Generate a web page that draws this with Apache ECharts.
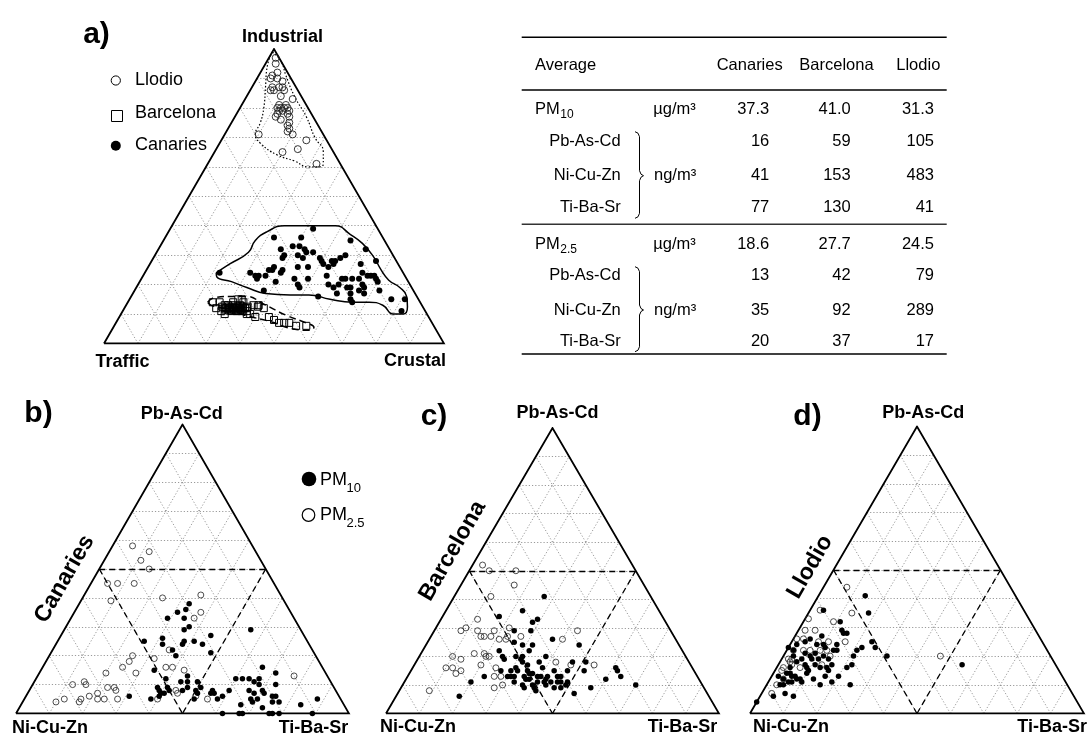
<!DOCTYPE html>
<html><head><meta charset="utf-8">
<script src="https://cdn.jsdelivr.net/npm/echarts@6/dist/echarts.min.js"></script>
<style>html,body{margin:0;padding:0;background:#fff}#c{width:1088px;height:740px}</style>
</head><body><div id="c"></div>
<script>
// ---------- Panel a: [Industrial %, Crustal %]  (Traffic = 100 - both) ----------
const llodioA = [[97,2],[95,3],[91,4],[92,5],[90,4],[90,6],[89,8],[87,6],[87,8],[86,7],[87,9],[86,10],[86,6],[84,10],[83,14],[81,11],[80,12],[80,13],[79,13],[80,14],[79,12],[78,15],[77,12],[77,16],[78,12],[76,14],[75,17],[74,17],[73,18],[72,18],[71,10],[71,20],[69,25],[66,24],[65,20],[61,32],[80,11],[81,13],[79,15]];
const barcelonaA = [[14,25],[14,27],[13,29],[12.5,30.5],[14,31],[15,32],[15,33],[14,34],[12.5,36],[13,37.5],[12.5,39],[13,39],[12,41],[9,44],[8,46],[7,48],[7,49.5],[7,51],[6,53.5],[6,56.5],[10,37],[10,38],[9,40],[11,29],[10,30.5],[12,27],[12.5,28.5],[12,30],[11.5,31.5],[12,32],[12,33],[12,34],[11.5,35],[13,30],[11,32],[11.5,33],[12.5,33],[11,35],[12,35.5],[11.5,30],[11,36.5],[11,33.5],[12.5,31.5],[13,33.5],[12,31],[11.5,32.5],[12.5,34.5],[11,34],[12,29.5],[13,31.5],[12,36],[11.5,34.5],[11.8,31],[12.2,32.5],[11.8,33.8],[12.2,34.8],[11.2,31.2]];
const canariesA = [[39,42],[36,32],[36,40],[35,55],[32,61],[32,36],[33,39],[33,41],[32,43],[31,44],[30,42],[29,44],[30,38],[29,38],[31,46],[30,56],[29,55],[28,54],[28,53],[29,49],[28,50],[27,51],[27,54],[26,53],[26,47],[26,44],[25,40],[24,40],[26,37],[25,37],[25,36],[23,36],[23,34],[22,34],[23,33],[24,31],[24,22],[21,40],[22,45],[20,47],[19,48],[22,49],[23,54],[20,56],[19,58],[20,59],[22,59],[22,60],[19,62],[17,64],[19,63],[24,64],[22,64],[20,66],[19,67],[23,66],[23,67],[23,68],[22,69],[21,70],[28,66],[27,62],[22,62],[18,66],[17,68],[15,65],[14,66],[17,60],[16,55],[15,77],[15,81],[11,82],[18,38],[18,72]];
const envLlodioA = [[99,0],[94,1],[87,4],[80,7],[75,8.5],[71,9],[68,12],[64,19],[62,25],[60,30],[60,33.5],[61,34],[65,32],[70,27],[77,21],[84,14],[91,8],[96,4]];
const envCanariesA = [[24,21],[27,23.5],[31,27],[35,27],[38,29],[40,33],[40,40],[40,48],[37,54],[34,59],[29.5,64.5],[25,69],[21.5,73],[19,77.5],[16,81],[12.5,83],[10,83],[10,80],[13,75.5],[14,71],[14,66],[15,59],[16.5,52],[16.5,46.5],[17,39],[19,32.5],[21,27],[22.5,22]];
const envBarcelonaA = [[14,23.5],[15.5,24.5],[16,29],[16,34],[13.5,40],[9.5,49],[7,56],[5.5,59],[4.5,58],[5,53],[7.5,45],[9.5,37],[11.5,30.5],[13,25]];

// ---------- Panels b-d: [Pb-As-Cd %, Ti-Ba-Sr %]  (Ni-Cu-Zn = rest) ----------
const canPM25 = [[58,6],[56,12],[53,11],[50,15],[45,5],[45,8],[45,13],[40,24],[41,35],[39,9],[35,38],[33,37],[22,35],[20,25],[18,25],[16,24],[14,29],[14,20],[16,37],[16,39],[15,43],[19,32],[10,12],[11,15],[10,16],[9,25],[8,26],[9,23],[7,21],[5,22],[5,24],[6,19],[5,17],[4,17],[5,12],[4,10],[5,28],[5,40],[8,44],[7,45],[6,51],[5,55],[13,77]];
const canPM10 = [[38,33],[36,33],[35,31],[33,29],[33,34],[30,37],[29,36],[27,45],[25,41],[25,38],[24,38],[24,44],[26,31],[25,26],[24,32],[22,36],[20,38],[21,48],[29,56],[15,34],[12,39],[13,45],[11,46],[11,44],[11,49],[9,41],[9,38],[8,39],[8,42],[7,41],[7,40],[6,40],[8,46],[9,47],[8,50],[7,51],[5,51],[9,51],[8,55],[7,56],[7,55],[6,59],[5,58],[8,60],[12,60],[12,62],[12,64],[11,66],[12,67],[10,68],[16,66],[14,71],[10,73],[8,70],[7,71],[7,68],[8,66],[5,68],[4,69],[5,70],[6,74],[6,75],[4,75],[4,77],[3,66],[2,73],[3,84],[5,88],[6,31],[5,38],[0,62],[0,67],[0,68],[0,76],[0,77],[0,79],[0,89]];
const barPM25 = [[52,3],[50,6],[50,14],[45,16],[41,11],[33,11],[29,8],[30,9],[29,13],[27,15],[27,16],[27,18],[29,18],[26,21],[26,23],[30,22],[27,27],[26,40],[29,43],[21,19],[21,16],[20,20],[20,21],[20,10],[19,13],[16,10],[16,12],[14,14],[15,15],[17,20],[16,25],[13,28],[13,26],[9,28],[10,30],[8,9],[17,54],[17,47],[18,42],[27,23]];
const barPM10 = [[41,27],[36,23],[33,29],[32,28],[34,17],[29,24],[29,29],[26,37],[24,32],[22,32],[24,29],[25,26],[24,46],[22,23],[20,25],[19,26],[20,38],[20,29],[19,31],[20,31],[18,32],[16,31],[15,32],[17,34],[18,37],[16,39],[13,40],[13,42],[15,43],[13,45],[13,46],[15,47],[18,47],[15,52],[18,51],[15,35],[14,36],[14,37],[13,39],[12,37],[12,36],[13,35],[13,32],[13,31],[11,33],[10,36],[10,39],[9,40],[11,40],[11,42],[12,42],[11,44],[11,46],[11,47],[9,48],[11,49],[10,49],[10,43],[8,41],[9,37],[11,20],[6,19],[13,23],[15,27],[7,53],[9,57],[12,60],[16,61],[15,62],[13,64],[10,70],[13,30],[15,30],[9,46]];
const llPM25 = [[44,7],[35,13],[33,1],[32,9],[29,5],[29,2],[26,1],[26,3],[25,8],[25,11],[25,16],[22,2],[22,5],[22,7],[22,10],[22,12],[20,14],[19,2],[19,3],[18,3],[16,2],[17,4],[15,2],[12,4],[16,7],[17,13],[10,3],[7,3],[20,47],[36,3]];
const llPM10 = [[41,14],[35,18],[36,4],[32,11],[29,13],[28,14],[28,15],[27,8],[25,4],[26,5],[24,8],[24,14],[25,24],[23,26],[23,22],[22,21],[20,31],[24,2],[21,6],[23,0],[24,10],[23,11],[22,14],[22,15],[22,2],[20,3],[19,6],[20,8],[21,9],[20,12],[19,14],[19,9],[17,11],[19,11],[17,16],[16,13],[16,15],[15,16],[13,20],[16,21],[20,21],[17,22],[18,5],[17,8],[16,9],[15,10],[16,4],[14,4],[14,5],[13,6],[13,7],[12,9],[12,8],[11,7],[11,6],[10,5],[10,4],[11,10],[10,16],[11,19],[10,25],[6,4],[7,7],[6,10],[4,0],[17,55],[12,13],[13,16],[12,4],[14,10],[13,2]];

// ---------- Table ----------
const tableCols = ['Canaries', 'Barcelona', 'Llodio'];
const rowNames = ['PM', 'Pb-As-Cd', 'Ni-Cu-Zn', 'Ti-Ba-Sr', 'PM', 'Pb-As-Cd', 'Ni-Cu-Zn', 'Ti-Ba-Sr'];
const rowSubs = ['10', '', '', '', '2.5', '', '', ''];
const valCanaries = ['37.3', '16', '41', '77', '18.6', '13', '35', '20'];
const valBarcelona = ['41.0', '59', '153', '130', '27.7', '42', '92', '37'];
const valLlodio = ['31.3', '105', '483', '41', '24.5', '79', '289', '17'];

// ---------- fonts ----------
const FF = "'Liberation Sans', Arial, Helvetica, sans-serif";
const mctx = document.createElement('canvas').getContext('2d');

// ---------- layout ----------
const grids = [
  {left: 104, top: 49, width: 340, height: 294.5},
  {left: 16, top: 424.5, width: 333, height: 289},
  {left: 386, top: 428, width: 333, height: 285.5},
  {left: 750, top: 426.5, width: 334, height: 287}
];
const T = (top, right) => [right / 100 + top / 200, top / 100];

function gridLines() {
  const out = [];
  for (let k = 10; k < 100; k += 10) {
    out.push({coords: [T(k, 0), T(k, 100 - k)]});
    out.push({coords: [T(0, k), T(100 - k, k)]});
    out.push({coords: [T(0, 100 - k), T(100 - k, 0)]});
  }
  return out;
}
const edges = [{coords: [T(0, 0), T(0, 100), T(100, 0), T(0, 0)]}];
const medial = [{coords: [T(50, 0), T(50, 50)]}, {coords: [T(50, 0), T(0, 50)]}, {coords: [T(50, 50), T(0, 50)]}];

function frame(i, dashed) {
  const s = [
    {type: 'lines', coordinateSystem: 'cartesian2d', xAxisIndex: i, yAxisIndex: i, silent: true, z: 1,
      lineStyle: {color: '#808080', width: 0.8, type: [1.2, 2], opacity: 1}, data: gridLines()},
    {type: 'lines', coordinateSystem: 'cartesian2d', xAxisIndex: i, yAxisIndex: i, silent: true, z: 3, polyline: true,
      lineStyle: {color: '#000', width: 1.8, type: 'solid', opacity: 1, join: 'miter'}, data: edges}
  ];
  if (dashed) s.push({type: 'lines', coordinateSystem: 'cartesian2d', xAxisIndex: i, yAxisIndex: i, silent: true, z: 3,
    lineStyle: {color: '#000', width: 1.3, type: [6, 4], opacity: 1}, data: medial});
  return s;
}
function sc(i, data, size, style, symbol) {
  return {type: 'scatter', xAxisIndex: i, yAxisIndex: i, silent: true, clip: false, z: 5, symbol: symbol || 'circle',
    symbolSize: size, itemStyle: Object.assign({opacity: 1}, style), data: data.map(d => T(d[0], d[1]))};
}
function env(data, width, type) {
  return {type: 'line', xAxisIndex: 0, yAxisIndex: 0, silent: true, clip: false, z: 4, smooth: 0.5, showSymbol: false, symbol: 'none',
    lineStyle: {color: '#000', width: width, type: type}, data: data.concat([data[0]]).map(d => T(d[0], d[1]))};
}
const openS = {color: 'rgba(255,255,255,0)', borderColor: '#222', borderWidth: 0.8};
const fillS = {color: '#000'};

const series = [].concat(
  frame(0, false), frame(1, true), frame(2, true), frame(3, true),
  [
    env(envLlodioA, 1.2, [1.5, 2]), env(envCanariesA, 1.5, 'solid'), env(envBarcelonaA, 1.5, [7, 4]),
    sc(0, llodioA, 7, {color: 'rgba(255,255,255,0)', borderColor: '#222', borderWidth: 0.9}),
    sc(0, barcelonaA, 7, {color: 'rgba(255,255,255,0)', borderColor: '#000', borderWidth: 1}, 'rect'),
    sc(0, canariesA, 6, fillS),
    sc(1, canPM25, 6, openS), sc(1, canPM10, 5.5, fillS),
    sc(2, barPM25, 6, openS), sc(2, barPM10, 5.5, fillS),
    sc(3, llPM25, 6, openS), sc(3, llPM10, 5.5, fillS)
  ]
);

// ---------- text / table graphics ----------
const G = [];
function txt(x, y, text, font, align, extra) {
  align = align || 'center';
  G.push(Object.assign({type: 'text', x: x, y: y, silent: true, z: 10,
    style: {text: text, font: font, fill: '#000', textAlign: align, align: align, textVerticalAlign: 'middle', verticalAlign: 'middle'}}, extra || {}));
}
function hline(x1, x2, y, w, c) {
  G.push({type: 'line', silent: true, z: 10, shape: {x1: x1, y1: y, x2: x2, y2: y}, style: {stroke: c || '#000', lineWidth: w}});
}
const B18 = 'bold 18px ' + FF, B30 = 'bold 30px ' + FF, B23 = 'bold 23px ' + FF, R18 = '18px ' + FF;
// panel a
txt(96.5, 35, 'a)', B30);
txt(282.5, 37, 'Industrial', B18);
txt(122.5, 362, 'Traffic', B18);
txt(415, 361, 'Crustal', B18);
G.push({type: 'circle', silent: true, z: 10, shape: {cx: 115.8, cy: 80.5, r: 4.6}, style: {fill: '#fff', stroke: '#000', lineWidth: 1}});
G.push({type: 'rect', silent: true, z: 10, shape: {x: 111.5, y: 110.5, width: 11, height: 11}, style: {fill: '#fff', stroke: '#000', lineWidth: 1}});
G.push({type: 'circle', silent: true, z: 10, shape: {cx: 115.8, cy: 145.7, r: 5}, style: {fill: '#000'}});
const legendNames = ['Llodio', 'Barcelona', 'Canaries'];
[80, 113, 145].forEach((y, k) => txt(135, y, legendNames[k], R18, 'left'));
// panels b/c/d
const letters = ['b)', 'c)', 'd)'];
const sites = ['Canaries', 'Barcelona', 'Llodio'];
const letterPos = [[38.5, 414], [434, 417], [807.5, 416.5]];
const topPos = [[181.7, 414], [557.5, 413.5], [923.3, 413]];
const leftPos = [[50, 728], [418, 727], [791, 727]];
const sitePos = [[64.5, 579], [452.5, 551], [810, 567]];
for (let k = 0; k < 3; k++) {
  txt(letterPos[k][0], letterPos[k][1], letters[k], B30);
  txt(topPos[k][0], topPos[k][1], 'Pb-As-Cd', B18);
  txt(leftPos[k][0], leftPos[k][1], 'Ni-Cu-Zn', B18);
  txt(sitePos[k][0], sitePos[k][1], sites[k], B23, 'center', {rotation: Math.PI / 3});
}
txt(313.5, 728, 'Ti-Ba-Sr', B18);
txt(682.5, 727, 'Ti-Ba-Sr', B18);
txt(1087, 727, 'Ti-Ba-Sr', B18, 'right');
// legend b
G.push({type: 'circle', silent: true, z: 10, shape: {cx: 309, cy: 479, r: 7.3}, style: {fill: '#000'}});
G.push({type: 'circle', silent: true, z: 10, shape: {cx: 308.5, cy: 515, r: 6.3}, style: {fill: '#fff', stroke: '#000', lineWidth: 1.2}});
txt(320, 480, 'PM', R18, 'left');
txt(346.5, 488, '10', '13px ' + FF, 'left');
txt(320, 515, 'PM', R18, 'left');
txt(346.5, 523, '2.5', '13px ' + FF, 'left');
// table
const TF = '16.5px ' + FF;
mctx.font = TF;
const pmW = mctx.measureText('PM').width;
hline(521.7, 946.7, 37.3, 1.4);
hline(521.7, 946.7, 90, 1.3);
hline(521.7, 946.7, 224.3, 1.6, '#333');
hline(521.7, 946.7, 354, 1.4);
txt(535, 65.7, 'Average', TF, 'left');
const headX = [749.7, 836.5, 918.3];
tableCols.forEach((c, k) => txt(headX[k], 65.7, c, TF));
const rowY = [109.5, 141.7, 175.7, 207.3, 244, 275.7, 310, 341.7];
const colX = [769.3, 850.7, 934];
rowNames.forEach((n, r) => {
  if (rowSubs[r]) {
    txt(535, rowY[r], n, TF, 'left');
    txt(535 + pmW + 0.5, rowY[r] + 5.5, rowSubs[r], '12px ' + FF, 'left');
    txt(653.3, rowY[r], 'µg/m³', TF, 'left');
  } else {
    txt(620.7, rowY[r], n, TF, 'right');
  }
  [valCanaries, valBarcelona, valLlodio].forEach((vals, k) => txt(colX[k], rowY[r], vals[r], TF, 'right'));
});
txt(654, 175.7, 'ng/m³', TF, 'left');
txt(654, 310, 'ng/m³', TF, 'left');
function brace(yTop, yMid, yBot) {
  const x0 = 635, x1 = 639.5, x2 = 643.5;
  G.push({type: 'polyline', silent: true, z: 10, shape: {points: [[x0, yTop], [x0 + 3, yTop + 1.5], [x1, yTop + 5], [x1, yMid - 5], [x1 + 1.5, yMid - 1.5], [x2, yMid], [x1 + 1.5, yMid + 1.5], [x1, yMid + 5], [x1, yBot - 5], [x0 + 3, yBot - 1.5], [x0, yBot]]},
    style: {stroke: '#000', lineWidth: 1, fill: null}});
}
brace(131.7, 175.7, 218.3);
brace(266.7, 310, 351.7);

const chart = echarts.init(document.getElementById('c'), null, {renderer: 'canvas'});
chart.setOption({
  animation: false,
  backgroundColor: '#fff',
  grid: grids.map(g => Object.assign({containLabel: false}, g)),
  xAxis: grids.map((g, i) => ({type: 'value', gridIndex: i, min: 0, max: 1, show: false})),
  yAxis: grids.map((g, i) => ({type: 'value', gridIndex: i, min: 0, max: 1, show: false})),
  series: series,
  graphic: G
});
</script></body></html>
